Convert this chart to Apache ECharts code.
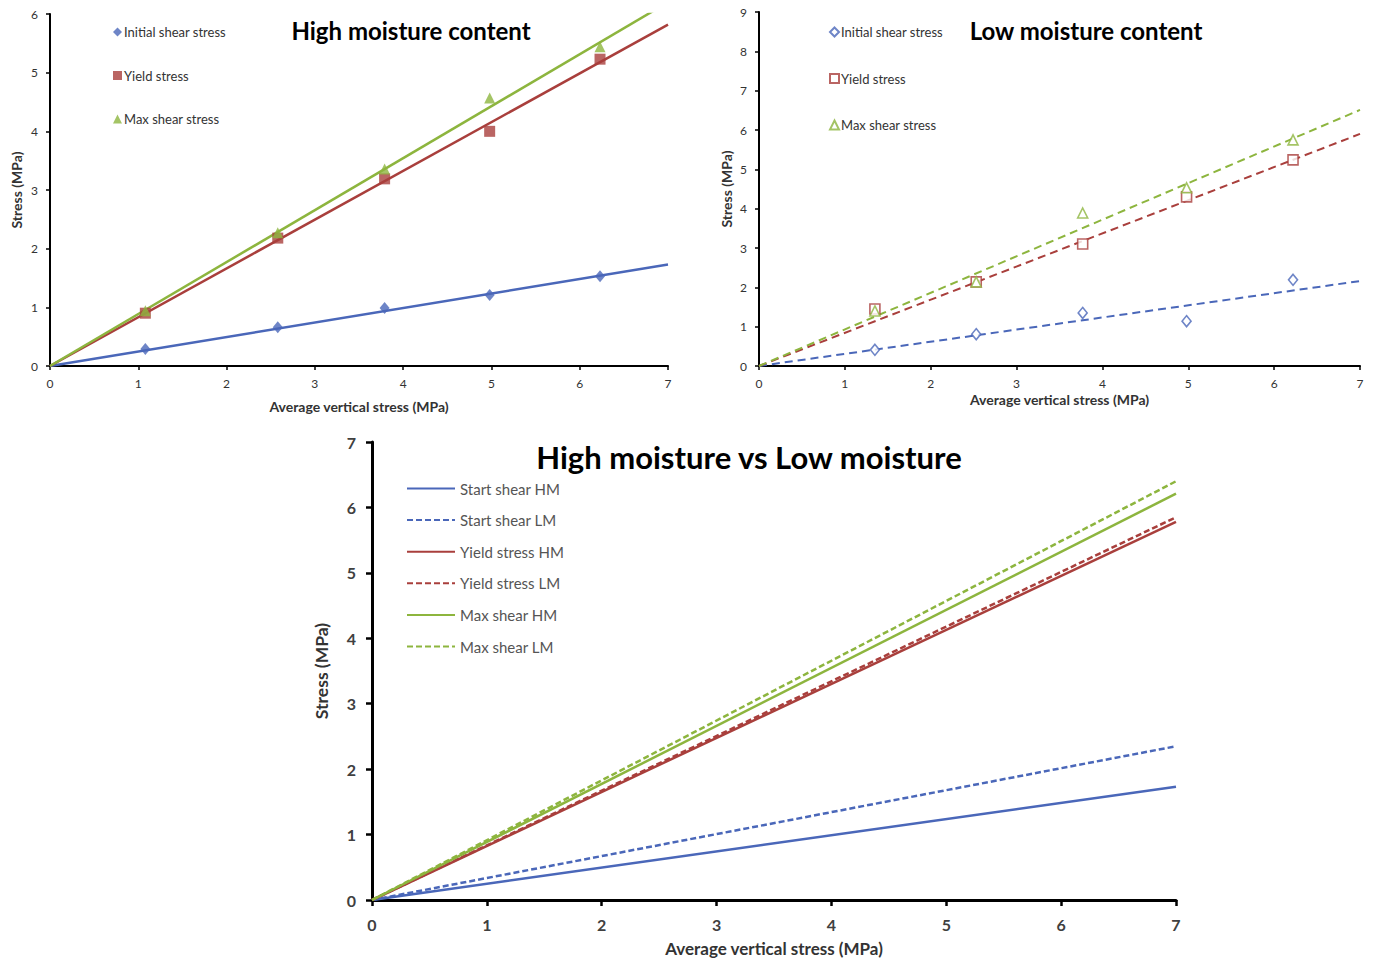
<!DOCTYPE html>
<html>
<head>
<meta charset="utf-8">
<script src="https://cdn.jsdelivr.net/npm/echarts@6/dist/echarts.min.js"></script>
<style>
  html, body { margin: 0; padding: 0; background: #fff; }
  .chart { position: absolute; left: 0; top: 0; width: 1375px; height: 958px; }
</style>
</head>
<body>
<div id="chart-hm" class="chart"></div>
<div id="chart-lm" class="chart"></div>
<div id="chart-cmp" class="chart"></div>
<script>
// --- data ---
var seriesNames = ['Initial shear stress', 'Yield stress', 'Max shear stress'];

// high moisture content measurements
var hmX = [1.08, 2.58, 3.79, 4.98, 6.23];
var hmInitial = [0.29, 0.66, 0.99, 1.21, 1.53];
var hmYield = [0.90, 2.18, 3.19, 4.00, 5.23];
var hmMax = [0.94, 2.27, 3.36, 4.57, 5.44];

// low moisture content measurements
var lmX = [1.35, 2.53, 3.77, 4.98, 6.22];
var lmInitial = [0.41, 0.81, 1.35, 1.14, 2.19];
var lmYield = [1.45, 2.14, 3.10, 4.30, 5.24];
var lmMax = [1.40, 2.14, 3.89, 4.53, 5.75];

// linear trend lines through origin: value at x = 0 and x = 7
var trendX = [0, 7];
var hmTrendInitial = [0, 1.73];
var hmTrendYield = [0, 5.82];
var hmTrendMax = [0, 6.20];
var lmTrendInitial = [0, 2.16];
var lmTrendYield = [0, 5.90];
var lmTrendMax = [0, 6.51];

// comparison chart lines
var cmpNames = ['Start shear HM', 'Start shear LM', 'Yield stress HM', 'Yield stress LM', 'Max shear HM', 'Max shear LM'];
var cmpEnd = [1.73, 2.35, 5.78, 5.85, 6.21, 6.40];

var blue = '#4a67b9';
var red = '#a93f3c';
var green = '#8db53e';
var font = 'Lato, "Open Sans", sans-serif';

function pairs(xs, ys) {
  var out = [];
  for (var i = 0; i < xs.length; i++) out.push([xs[i], ys[i]]);
  return out;
}

function smallAxis(min, max, name, nameGap, labelMargin) {
  return {
    type: 'value', min: min, max: max, interval: 1,
    name: name, nameLocation: 'middle', nameGap: nameGap,
    nameTextStyle: { color: '#333', fontSize: 14, fontWeight: 'bold', fontFamily: font },
    axisLine: { show: true, onZero: false, lineStyle: { color: '#000', width: 2 } },
    axisTick: { show: true, inside: false, length: 4, lineStyle: { color: '#000', width: 1.5 } },
    axisLabel: { color: '#333', fontSize: 12, fontFamily: font, margin: labelMargin },
    splitLine: { show: false }
  };
}

function trend(name, data, color, dashed) {
  return {
    name: name, type: 'line', data: data, symbol: 'none', silent: true, z: 1,
    lineStyle: { color: color, width: dashed ? 2 : 2.5, type: dashed ? [8, 5] : 'solid' }
  };
}

function points(name, data, symbol, size, color, hollow) {
  return {
    name: name, type: 'scatter', data: data, symbol: symbol, symbolSize: size, z: 3,
    itemStyle: hollow ? { color: '#fff', borderColor: color, borderWidth: 1.6 } : { color: color }
  };
}

// --- Chart: High moisture content ---
var chartHm = echarts.init(document.getElementById('chart-hm'), null, { renderer: 'svg' });
chartHm.setOption({
  animation: false,
  backgroundColor: 'transparent',
  title: {
    text: 'High moisture content', left: 406, top: 13, textAlign: 'center',
    textStyle: { fontSize: 24, fontWeight: 'bold', color: '#000', fontFamily: font }
  },
  legend: {
    data: seriesNames, orient: 'vertical', left: 108, top: 20.5, itemGap: 30.5,
    itemWidth: 9, itemHeight: 9,
    textStyle: { color: '#333', fontSize: 13, fontFamily: font, padding: [0, 0, 0, -3] }
  },
  grid: { left: 50, top: 14, width: 618, height: 352 },
  xAxis: smallAxis(0, 7, 'Average vertical stress (MPa)', 33, 11),
  yAxis: smallAxis(0, 6, 'Stress (MPa)', 27, 12),
  series: [
    trend('t1', pairs(trendX, hmTrendInitial), blue, false),
    trend('t2', pairs(trendX, hmTrendYield), red, false),
    trend('t3', pairs(trendX, hmTrendMax), green, false),
    points(seriesNames[0], pairs(hmX, hmInitial), 'diamond', [10, 12], blue, false),
    points(seriesNames[1], pairs(hmX, hmYield), 'rect', 11, red, false),
    points(seriesNames[2], pairs(hmX, hmMax), 'triangle', 11, green, false)
  ]
});

// --- Chart: Low moisture content ---
var chartLm = echarts.init(document.getElementById('chart-lm'), null, { renderer: 'svg' });
chartLm.setOption({
  animation: false,
  backgroundColor: 'transparent',
  title: {
    text: 'Low moisture content', left: 1081, top: 13, textAlign: 'center',
    textStyle: { fontSize: 24, fontWeight: 'bold', color: '#000', fontFamily: font }
  },
  legend: {
    data: seriesNames, orient: 'vertical', left: 824, top: 20.5, itemGap: 33.5,
    itemWidth: 9, itemHeight: 9,
    textStyle: { color: '#333', fontSize: 13, fontFamily: font, padding: [0, 0, 0, -3] }
  },
  grid: { left: 759, top: 12, width: 601, height: 354 },
  xAxis: smallAxis(0, 7, 'Average vertical stress (MPa)', 26, 11),
  yAxis: smallAxis(0, 9, 'Stress (MPa)', 26, 12),
  series: [
    trend('t1', pairs(trendX, lmTrendInitial), blue, true),
    trend('t2', pairs(trendX, lmTrendYield), red, true),
    trend('t3', pairs(trendX, lmTrendMax), green, true),
    points(seriesNames[0], pairs(lmX, lmInitial), 'diamond', [9, 11], blue, true),
    points(seriesNames[1], pairs(lmX, lmYield), 'rect', 10, red, true),
    points(seriesNames[2], pairs(lmX, lmMax), 'triangle', 10, green, true)
  ]
});

// --- Chart: High moisture vs Low moisture ---
var chartCmp = echarts.init(document.getElementById('chart-cmp'), null, { renderer: 'svg' });
var cmpColors = [blue, blue, red, red, green, green];
var cmpSeries = cmpNames.map(function(name, i) {
  var dashed = i % 2 === 1;
  return {
    name: name, type: 'line', symbol: 'none',
    data: pairs(trendX, [0, cmpEnd[i]]),
    itemStyle: { color: cmpColors[i] },
    lineStyle: { color: cmpColors[i], width: 2.5, type: dashed ? [6, 3] : 'solid' }
  };
});
chartCmp.setOption({
  animation: false,
  backgroundColor: 'transparent',
  title: {
    text: 'High moisture vs Low moisture', left: 744, top: 436, textAlign: 'center',
    textStyle: { fontSize: 31, fontWeight: 'bold', color: '#000', fontFamily: font }
  },
  legend: {
    data: cmpNames, orient: 'vertical', left: 401, top: 476, itemGap: 16.6,
    itemWidth: 48, itemHeight: 18,
    itemStyle: { opacity: 0 },
    textStyle: { color: '#555', fontSize: 15, fontFamily: font }
  },
  grid: { left: 372, top: 442, width: 804, height: 458 },
  xAxis: {
    type: 'value', min: 0, max: 7, interval: 1,
    name: 'Average vertical stress (MPa)', nameLocation: 'middle', nameGap: 40,
    nameTextStyle: { color: '#333', fontSize: 17, fontWeight: 'bold', fontFamily: font },
    axisLine: { show: true, onZero: false, lineStyle: { color: '#000', width: 3 } },
    axisTick: { show: true, length: 6, lineStyle: { color: '#000', width: 2.5 } },
    axisLabel: { color: '#404040', fontSize: 16, fontWeight: 'bold', fontFamily: font, margin: 16 },
    splitLine: { show: false }
  },
  yAxis: {
    type: 'value', min: 0, max: 7, interval: 1,
    name: 'Stress (MPa)', nameLocation: 'middle', nameGap: 42,
    nameTextStyle: { color: '#333', fontSize: 17.5, fontWeight: 'bold', fontFamily: font },
    axisLine: { show: true, onZero: false, lineStyle: { color: '#000', width: 3 } },
    axisTick: { show: true, length: 6, lineStyle: { color: '#000', width: 2.5 } },
    axisLabel: { color: '#404040', fontSize: 16, fontWeight: 'bold', fontFamily: font, margin: 16 },
    splitLine: { show: false }
  },
  series: cmpSeries
});
</script>
</body>
</html>
